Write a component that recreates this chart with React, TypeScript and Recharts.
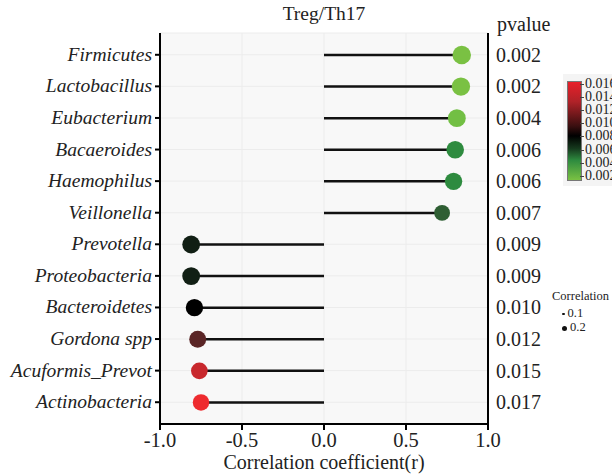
import React from 'react';
import { ComposedChart, Bar, XAxis, YAxis, CartesianGrid } from 'recharts';

const taxa = [
  'Firmicutes',
  'Lactobacillus',
  'Eubacterium',
  'Bacaeroides',
  'Haemophilus',
  'Veillonella',
  'Prevotella',
  'Proteobacteria',
  'Bacteroidetes',
  'Gordona spp',
  'Acuformis_Prevot',
  'Actinobacteria',
];
const correlations = [0.84, 0.835, 0.81, 0.8, 0.79, 0.72, -0.81, -0.81, -0.79, -0.77, -0.76, -0.75];
const pvalues = [0.002, 0.002, 0.004, 0.006, 0.006, 0.007, 0.009, 0.009, 0.01, 0.012, 0.015, 0.017];
const xTicks = [-1, -0.5, 0, 0.5, 1];
const colorbarTicks = [0.016, 0.014, 0.012, 0.01, 0.008, 0.006, 0.004, 0.002];
const sizeLegend = [0.1, 0.2];

const data = taxa.map((name, i) => ({ name, r: correlations[i], p: pvalues[i] }));

// p value -> colour, picked off the reference colour bar
const stops: [number, number[]][] = [
  [0.002, [122, 193, 67]],
  [0.004, [114, 191, 68]],
  [0.006, [46, 139, 63]],
  [0.007, [46, 94, 51]],
  [0.0095, [10, 15, 12]],
  [0.01, [0, 0, 0]],
  [0.012, [90, 37, 38]],
  [0.015, [200, 40, 45]],
  [0.017, [238, 43, 47]],
];
const pColor = (p: number) => {
  if (p <= stops[0][0]) return `rgb(${stops[0][1].join(',')})`;
  for (let i = 1; i < stops.length; i++) {
    const [p1, c1] = stops[i];
    const [p0, c0] = stops[i - 1];
    if (p <= p1) {
      const t = (p - p0) / (p1 - p0);
      const c = c0.map((v, k) => Math.round(v + (c1[k] - v) * t));
      return `rgb(${c.join(',')})`;
    }
  }
  return `rgb(${stops[stops.length - 1][1].join(',')})`;
};

const serif = '"Liberation Serif", "Times New Roman", serif';
const ink = '#222';

const Lollipop = (props: any) => {
  const { x, y, width, height, payload } = props;
  const left = Math.min(x, x + width);
  const right = Math.max(x, x + width);
  const cy = y + height / 2;
  const zero = payload.r < 0 ? right : left;
  const end = payload.r < 0 ? left : right;
  const rad = Math.abs(payload.r) * 11;
  return (
    <g>
      <line x1={zero} x2={end} y1={cy} y2={cy} stroke="#111" strokeWidth={2.5} />
      <circle cx={end} cy={cy} r={rad} fill={pColor(payload.p)} />
    </g>
  );
};

const NameTick = (props: any) => {
  const { x, y, payload } = props;
  return (
    <text x={x - 1} y={y} dy={6} textAnchor="end" style={{ fontFamily: serif, fontStyle: 'italic', fontSize: 19.5, fill: ink }}>
      {payload.value}
    </text>
  );
};

const PTick = (props: any) => {
  const { x, y, payload } = props;
  return (
    <text x={x + 8} y={y} dy={7} textAnchor="start" style={{ fontFamily: serif, fontSize: 20, fill: ink }}>
      {pvalues[taxa.indexOf(payload.value)].toFixed(3)}
    </text>
  );
};

const XTick = (props: any) => {
  const { x, y, payload } = props;
  return (
    <text x={x} y={y} dy={15} textAnchor="middle" style={{ fontFamily: serif, fontSize: 20.5, fill: ink }}>
      {payload.value.toFixed(1)}
    </text>
  );
};

export default function App() {
  return (
    <div style={{ position: 'absolute', left: 0, top: 0, width: 612, height: 476, background: '#fff', overflow: 'hidden' }}>
      <ComposedChart
        width={612}
        height={476}
        data={data}
        layout="vertical"
        margin={{ top: 33, right: 0, bottom: 0, left: 0 }}
      >
        <CartesianGrid stroke="#ececec" fill="#f8f8f8" strokeWidth={1} />
        <XAxis
          type="number"
          domain={[-1, 1]}
          ticks={xTicks}
          height={52}
          axisLine={{ stroke: '#000', strokeWidth: 2 }}
          tickLine={{ stroke: '#000', strokeWidth: 2 }}
          tickSize={6}
          tick={<XTick />}
        />
        <XAxis
          xAxisId="top"
          orientation="top"
          type="number"
          domain={[-1, 1]}
          height={0}
          tick={false}
          tickLine={false}
          axisLine={{ stroke: '#000', strokeWidth: 2 }}
        />
        <YAxis
          type="category"
          dataKey="name"
          width={160}
          padding={{ top: 6, bottom: 6 }}
          axisLine={{ stroke: '#000', strokeWidth: 2 }}
          tickLine={{ stroke: '#000', strokeWidth: 2 }}
          tickSize={5}
          tickMargin={2}
          tick={<NameTick />}
          interval={0}
        />
        <YAxis
          yAxisId="right"
          orientation="right"
          type="category"
          dataKey="name"
          width={124}
          padding={{ top: 6, bottom: 6 }}
          axisLine={{ stroke: '#000', strokeWidth: 2 }}
          tickLine={false}
          tickSize={0}
          tickMargin={0}
          tick={<PTick />}
          interval={0}
        />
        <Bar dataKey="r" barSize={20} shape={Lollipop} isAnimationActive={false} />
      </ComposedChart>

      <div style={{ position: 'absolute', left: 0, width: 648, top: 3, textAlign: 'center', fontFamily: serif, fontSize: 19.5, color: ink }}>
        Treg/Th17
      </div>
      <div style={{ position: 'absolute', left: 497, top: 13, fontFamily: serif, fontSize: 20, color: ink }}>pvalue</div>
      <div style={{ position: 'absolute', left: 0, width: 648, top: 451, textAlign: 'center', fontFamily: serif, fontSize: 20, lineHeight: '22px', color: ink }}>
        Correlation coefficient(r)
      </div>

      <div style={{ position: 'absolute', left: 563, top: 74, width: 60, height: 112, background: '#f4f4f4' }} />
      <div
        style={{
          position: 'absolute',
          left: 567,
          top: 81,
          width: 13,
          height: 98,
          border: '1px solid #777',
          background:
            'linear-gradient(to bottom, #e8202a 0%, #b02228 20%, #3a0f10 45%, #000 55%, #163a1e 68%, #2e8b3f 80%, #7ac143 100%)',
        }}
      />
      {colorbarTicks.map((t, i) => (
        <React.Fragment key={t}>
          <div style={{ position: 'absolute', left: 580, top: 84 + i * 13.1, width: 4, height: 1, background: '#444' }} />
          <div
            style={{
              position: 'absolute',
              left: 585,
              top: 84 + i * 13.1 - 6,
              fontFamily: serif,
              fontSize: 14,
              lineHeight: '12px',
              color: ink,
              whiteSpace: 'nowrap',
            }}
          >
            {t.toFixed(3)}
          </div>
        </React.Fragment>
      ))}

      <div style={{ position: 'absolute', left: 552, top: 289, fontFamily: serif, fontSize: 12.5, color: ink }}>Correlation</div>
      {sizeLegend.map((s, i) => (
        <div key={s} style={{ position: 'absolute', left: 562, top: 306 + i * 14, fontFamily: serif, fontSize: 12.5, color: ink, whiteSpace: 'nowrap' }}>
          <span style={{ display: 'inline-block', width: s * 25, height: s * 25, borderRadius: '50%', background: '#111', marginRight: 3, verticalAlign: 'middle' }} />
          {s}
        </div>
      ))}
    </div>
  );
}
